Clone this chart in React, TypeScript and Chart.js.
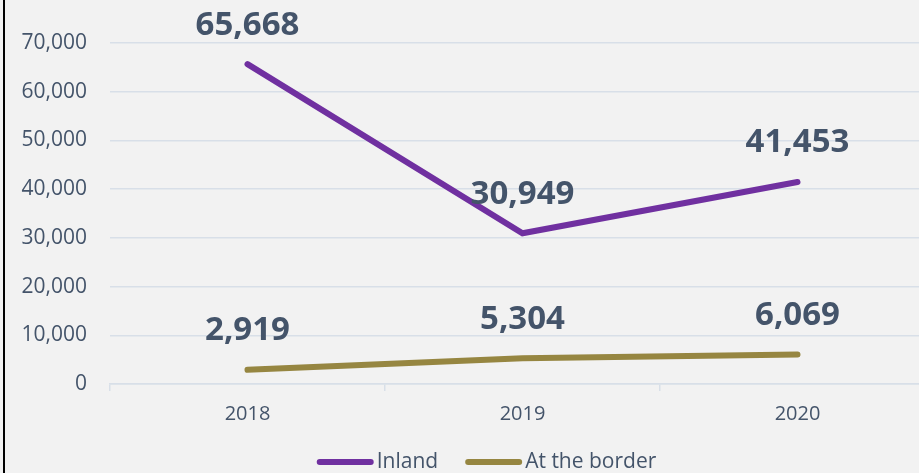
import React, { useEffect, useRef } from "react";
import { Chart, registerables } from "chart.js";

Chart.register(...registerables);

const categories = ["2018", "2019", "2020"];
const inland = [65668, 30949, 41453];
const border = [2919, 5304, 6069];
const seriesNames = ["Inland", "At the border"];
const yTicks = [0, 10000, 20000, 30000, 40000, 50000, 60000, 70000];

const TEXT = "#44546a";
const GRID = "#d8dfe8";
const PURPLE = "#7030a0";
const GOLD = "#968641";
const FONT = "'Open Sans', 'Noto Sans', sans-serif";

const labelPlugin = {
  id: "valueLabels",
  afterDatasetsDraw(chart: any) {
    const ctx = chart.ctx;
    ctx.save();
    ctx.font = `bold 33px ${FONT}`;
    ctx.fillStyle = TEXT;
    ctx.textAlign = "center";
    ctx.textBaseline = "middle";
    chart.data.datasets.forEach((ds: any, i: number) => {
      const meta = chart.getDatasetMeta(i);
      meta.data.forEach((pt: any, j: number) => {
        const v = ds.data[j] as number;
        ctx.fillText(v.toLocaleString("en-US"), pt.x, pt.y - 39);
      });
    });
    ctx.restore();
  },
};

const legendPlugin = {
  id: "lineLegend",
  afterDraw(chart: any) {
    const ctx = chart.ctx;
    const lineLen = 51;
    const cap = 3;
    const textGap = 6;
    const itemGap = 27;
    const cy = 462;
    const centerX = 486.5;
    ctx.save();
    ctx.font = `21px ${FONT}`;
    const items = chart.data.datasets.map((ds: any) => ({
      text: ds.label as string,
      color: ds.borderColor as string,
      w: ctx.measureText(ds.label).width,
    }));
    let total = 0;
    items.forEach((it: any, i: number) => {
      total += cap + lineLen + textGap + it.w;
      if (i < items.length - 1) total += itemGap;
    });
    let x = centerX - total / 2;
    items.forEach((it: any) => {
      const x0 = x + cap;
      ctx.strokeStyle = it.color;
      ctx.lineWidth = 6;
      ctx.lineCap = "round";
      ctx.beginPath();
      ctx.moveTo(x0, cy);
      ctx.lineTo(x0 + lineLen, cy);
      ctx.stroke();
      ctx.fillStyle = TEXT;
      ctx.textAlign = "left";
      ctx.textBaseline = "middle";
      ctx.fillText(it.text, x0 + lineLen + textGap, cy);
      x += cap + lineLen + textGap + it.w + itemGap;
    });
    ctx.restore();
  },
};

export default function App() {
  const ref = useRef<HTMLCanvasElement | null>(null);
  useEffect(() => {
    if (!ref.current) return;
    const chart = new Chart(ref.current, {
      type: "line",
      data: {
        labels: categories,
        datasets: [
          {
            label: seriesNames[0],
            data: inland,
            borderColor: PURPLE,
            backgroundColor: PURPLE,
            borderWidth: 6,
            borderCapStyle: "round",
            borderJoinStyle: "miter",
            pointRadius: 0,
            pointHoverRadius: 0,
            tension: 0,
          },
          {
            label: seriesNames[1],
            data: border,
            borderColor: GOLD,
            backgroundColor: GOLD,
            borderWidth: 6,
            borderCapStyle: "round",
            borderJoinStyle: "miter",
            pointRadius: 0,
            pointHoverRadius: 0,
            tension: 0,
          },
        ],
      },
      options: {
        responsive: false,
        animation: false,
        layout: { padding: { left: 0, right: 25, top: 43, bottom: 49 } },
        plugins: {
          tooltip: { enabled: false },
          legend: { display: false },
        },
        scales: {
          x: {
            offset: true,
            afterFit(scale: any) {
              scale.height = 40;
            },
            grid: {
              offset: true,
              drawOnChartArea: false,
              drawTicks: true,
              tickLength: 7,
              color: GRID,
              lineWidth: 1.5,
            },
            border: { display: true, color: GRID, width: 1.5 },
            ticks: {
              color: TEXT,
              font: { family: FONT, size: 20 },
              padding: 11,
            },
          },
          y: {
            min: 0,
            max: 70000,
            afterFit(scale: any) {
              scale.width = 110;
            },
            afterBuildTicks(scale: any) {
              scale.ticks = yTicks.map((v) => ({ value: v }));
            },
            grid: { color: GRID, lineWidth: 1.5, drawTicks: false },
            border: { display: false },
            ticks: {
              color: TEXT,
              font: { family: FONT, size: 21 },
              padding: 23,
              callback: (v: any) => Number(v).toLocaleString("en-US"),
            },
          },
        },
      },
      plugins: [labelPlugin, legendPlugin],
    });
    return () => chart.destroy();
  }, []);

  return (
    <div
      style={{
        position: "fixed",
        left: 0,
        top: 0,
        width: 919,
        height: 473,
        overflow: "hidden",
        background: "#f2f2f2",
      }}
    >
      <canvas
        ref={ref}
        width={960}
        height={473}
        style={{ display: "block", position: "absolute", left: 0, top: 0 }}
      />
      <div
        style={{
          position: "absolute",
          left: 3,
          top: 0,
          width: 2,
          height: 473,
          background: "#000",
        }}
      />
    </div>
  );
}
